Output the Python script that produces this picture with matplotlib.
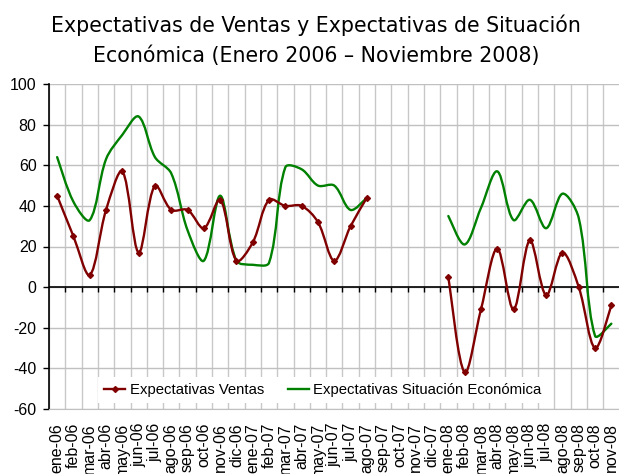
import matplotlib
matplotlib.use("Agg")
import matplotlib.pyplot as plt
from matplotlib.path import Path
from matplotlib.patches import PathPatch
from matplotlib.lines import Line2D
import numpy as np

meses = ["ene-06", "feb-06", "mar-06", "abr-06", "may-06", "jun-06", "jul-06", "ago-06",
         "sep-06", "oct-06", "nov-06", "dic-06", "ene-07", "feb-07", "mar-07", "abr-07",
         "may-07", "jun-07", "jul-07", "ago-07", "sep-07", "oct-07", "nov-07", "dic-07",
         "ene-08", "feb-08", "mar-08", "abr-08", "may-08", "jun-08", "jul-08", "ago-08",
         "sep-08", "oct-08", "nov-08"]

ventas = [45, 25, 6, 38, 57, 17, 50, 38, 38, 29, 43, 13, 22, 43, 40, 40, 32, 13, 30, 44,
          None, None, None, None,
          5, -42, -11, 19, -11, 23, -4, 17, 0, -30, -9]

situacion = [64, 42, 33, 63, 75, 84, 64, 56, 28, 13, 45, 13, 11, 12, 59, 58, 50, 50, 38, 44,
             None, None, None, None,
             35, 21, 39, 57, 33, 43, 29, 46, 34, -24, -18]

titulo = "Expectativas de Ventas y Expectativas de Situación\nEconómica (Enero 2006 – Noviembre 2008)"
nombre_ventas = "Expectativas Ventas"
nombre_situacion = "Expectativas Situación Económica"

ROJO = "#800000"
VERDE = "#008000"

# pixel scale of one unit (for chord-length smoothing like spreadsheet "smoothed line")
SX, SY = 16.3, 2.03


def segmentos(vals):
    segs, cur = [], []
    for i, v in enumerate(vals):
        if v is None:
            if cur:
                segs.append(cur)
            cur = []
        else:
            cur.append((i, v))
    if cur:
        segs.append(cur)
    return segs


def curva(pts):
    P = np.array([[p[0] * SX, p[1] * SY] for p in pts], dtype=float)
    n = len(P)
    d = [np.hypot(*(P[k + 1] - P[k])) for k in range(n - 1)]
    verts = [tuple(P[0])]
    codes = [Path.MOVETO]
    for k in range(n - 1):
        a = k - 1 if k > 0 else k
        b = k + 2 if k + 2 < n else k + 1
        # outgoing control at P[k]
        T1 = P[k + 1] - P[a]
        if k > 0:
            f1 = d[k] / (d[k - 1] + d[k]) / 3.0
        else:
            f1 = 1 / 6.0
        c1 = P[k] + T1 * f1
        T2 = P[b] - P[k]
        if k + 2 < n:
            f2 = d[k] / (d[k] + d[k + 1]) / 3.0
        else:
            f2 = 1 / 6.0
        c2 = P[k + 1] - T2 * f2
        verts += [tuple(c1), tuple(c2), tuple(P[k + 1])]
        codes += [Path.CURVE4] * 3
    verts = [(vx / SX, vy / SY) for vx, vy in verts]
    return Path(verts, codes)


fig = plt.figure(figsize=(6.19, 4.74), dpi=100)
W, H = 619.0, 474.0
ax = fig.add_axes([49 / W, (H - 409) / H, (619.5 - 49) / W, (409 - 84) / H])

n = len(meses)
x = np.arange(n)
ax.set_xlim(-0.5, n - 0.5)
ax.set_ylim(-60, 100)

ax.set_yticks(np.arange(-60, 101, 20))
ax.set_xticks(x)
ax.set_xticks(np.arange(-0.5, n, 1.0), minor=True)
ax.yaxis.grid(True, color="#c0c0c0", lw=1.0)
ax.xaxis.grid(True, which="minor", color="#c8c8c8", lw=1.0)
ax.set_axisbelow(True)

for s in ["top", "right"]:
    ax.spines[s].set_visible(False)
ax.spines["bottom"].set_color("#c0c0c0")
ax.spines["left"].set_color("black")
ax.spines["left"].set_linewidth(1.2)

ax.set_yticklabels([str(v) for v in range(-60, 101, 20)], fontfamily="Liberation Sans", fontsize=11.5)
ax.tick_params(axis="y", direction="out", length=4, width=1, color="black", pad=5)
ax.set_xticklabels(meses, rotation=90, fontfamily="Liberation Sans", fontsize=11.5, va="top", ha="center")
ax.tick_params(axis="x", which="both", length=0, pad=10)

ax.axhline(0, color="black", lw=1.2, zorder=3)
ax.vlines(np.arange(0.5, n - 0.5, 1.0), -2.6, 0, color="black", lw=1.0, zorder=3)

for vals, col in [(situacion, VERDE), (ventas, ROJO)]:
    for seg in segmentos(vals):
        ax.add_patch(PathPatch(curva(seg), fill=False, edgecolor=col, lw=1.7, zorder=4,
                               capstyle="round", joinstyle="round"))

vx = [i for i, v in enumerate(ventas) if v is not None]
vy = [v for v in ventas if v is not None]
ax.plot(vx, vy, linestyle="none", marker="D", ms=3, color=ROJO, zorder=5)

handles = [Line2D([], [], color=ROJO, lw=1.7, marker="D", ms=3),
           Line2D([], [], color=VERDE, lw=1.7)]
leg = ax.legend(handles, [nombre_ventas, nombre_situacion], loc="center",
                bbox_to_anchor=(0.48, 0.058), ncol=2, frameon=True, fancybox=False,
                prop={"family": "Liberation Sans", "size": 10.7},
                handlelength=1.4, handletextpad=0.3, columnspacing=1.6,
                borderpad=0.4, borderaxespad=0)
leg.get_frame().set_facecolor("white")
leg.get_frame().set_edgecolor("none")
leg.get_frame().set_alpha(1)
leg.set_zorder(6)

fig.text(316 / W, 1 - 15 / H, titulo, ha="center", va="top", fontfamily="DejaVu Sans",
         fontsize=14.8, linespacing=1.55)

fig.savefig("out.png", dpi=100)
